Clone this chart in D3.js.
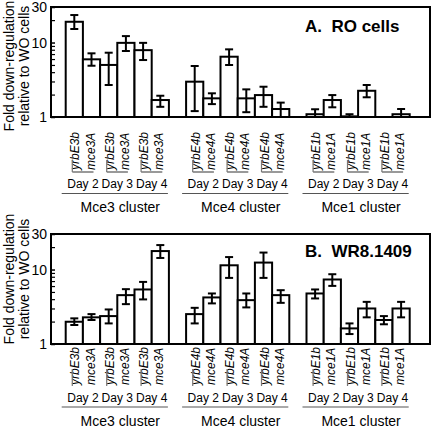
<!DOCTYPE html>
<html>
<head>
<meta charset="utf-8">
<script src="https://cdn.jsdelivr.net/npm/d3@7"></script>
<style>
  html, body { margin: 0; padding: 0; background: #fff; }
  svg { display: block; }
  text { font-family: "Liberation Sans", Arial, Helvetica, sans-serif; fill: #000; }
</style>
</head>
<body>
<svg id="chart" width="432" height="429"></svg>
<script>
// ---------- data ----------
const clusters = ["Mce3 cluster", "Mce4 cluster", "Mce1 cluster"];
const days = ["Day 2", "Day 3", "Day 4"];
const genePairs = [["yrbE3b", "mce3A"], ["yrbE4b", "mce4A"], ["yrbE1b", "mce1A"]];

// Panel A: RO cells (18 bars: cluster x day x gene)
const roValues = [19.0, 5.95, 5.0, 9.9, 7.9, 1.69,  2.98, 1.78, 6.45, 1.78, 1.97, 1.28,  1.09, 1.69, 1.02, 2.25, 1.0, 1.09];
const roLow    = [15.2, 4.88, 2.69, 7.69, 5.82, 1.37, 1.2, 1.49, 4.99, 1.16, 1.37, 1.0,   1.0, 1.35, 1.0, 1.84, 1.0, 1.0];
const roHigh   = [23.4, 7.16, 7.3, 12.2, 9.9, 1.93,   4.84, 2.08, 8.1, 2.35, 2.55, 1.56,  1.27, 1.97, 1.09, 2.69, 1.0, 1.28];

// Panel B: WR8.1409
const wrValues = [1.99, 2.28, 2.37, 4.53, 5.4, 17.7,  2.52, 4.22, 11.4, 3.88, 12.4, 4.53,  4.77, 7.35, 1.62, 3.0, 2.10, 3.0];
const wrLow    = [1.80, 2.10, 1.89, 3.43, 3.97, 14.3, 1.89, 3.51, 7.72, 3.10, 7.72, 3.57,  4.09, 6.03, 1.36, 2.28, 1.84, 2.28];
const wrHigh   = [2.21, 2.52, 2.91, 5.45, 6.82, 21.3, 3.06, 4.77, 14.7, 4.77, 16.9, 5.28,  5.4, 8.65, 1.89, 3.68, 2.37, 3.68];

const yTickLabels = [1, 10, 30];
const yMinorTicks = [2, 3, 4, 5, 6, 7, 8, 9, 20];
const yTitleLines = ["Fold down-regulation", "relative to WO cells"];
const panelTitles = ["A.  RO cells", "B.  WR8.1409"];

// ---------- layout ----------
const svg = d3.select("#chart");
const plotLeft = 51, plotRight = 430;
// slot scale: 6 bars per cluster + 1 gap slot
const x = d3.scaleLinear().domain([0, 20]).range([65.7, 409.7]);

const panels = [
  { title: panelTitles[0], values: roValues, low: roLow, high: roHigh,
    top: 7, bottom: 117, titleY: 32, yTitleC: 66,
    labelBottom: 170, dayY: 188, groupLineY: 193.5, clusterY: 212,
    pairLine: true, vTop: 160, vBot: 172 },
  { title: panelTitles[1], values: wrValues, low: wrLow, high: wrHigh,
    top: 234, bottom: 344, titleY: 257, yTitleC: 279,
    labelBottom: 385, dayY: 402, groupLineY: 407, clusterY: 426,
    pairLine: false, vTop: 369, vBot: 386 }
];

panels.forEach(p => {
  const g = svg.append("g");
  const y = d3.scaleLog().domain([1, 30]).range([p.bottom, p.top]);

  // bars data
  const bars = [];
  clusters.forEach((c, ci) => {
    days.forEach((d, di) => {
      genePairs[ci].forEach((gene, gi) => {
        const k = ci * 6 + di * 2 + gi;
        bars.push({ slot: ci * 7 + di * 2 + gi, gene, gi,
          v: p.values[k], lo: p.low[k], hi: p.high[k] });
      });
    });
  });

  // y title
  yTitleLines.forEach((t, i) => {
    g.append("text")
      .attr("transform", `translate(${i === 0 ? 13.5 : 29},${p.yTitleC}) rotate(-90)`)
      .attr("text-anchor", "middle")
      .style("font-size", "14px")
      .text(t);
  });

  // bars
  g.selectAll("rect.bar").data(bars).enter().append("rect")
    .attr("class", "bar")
    .attr("x", d => x(d.slot))
    .attr("width", d => x(d.slot + 1) - x(d.slot))
    .attr("y", d => y(d.v))
    .attr("height", d => y(1) - y(d.v))
    .attr("fill", "#fff")
    .attr("stroke", "#000")
    .attr("stroke-width", 2);

  // error bars
  const eb = g.selectAll("g.err").data(bars).enter().append("g").attr("class", "err")
    .attr("stroke", "#000").attr("stroke-width", 2);
  const cx = d => (x(d.slot) + x(d.slot + 1)) / 2;
  eb.append("line").attr("x1", cx).attr("x2", cx).attr("y1", d => y(d.lo)).attr("y2", d => y(d.hi));
  eb.append("line").attr("x1", d => cx(d) - 4).attr("x2", d => cx(d) + 4).attr("y1", d => y(d.hi)).attr("y2", d => y(d.hi));
  eb.append("line").attr("x1", d => cx(d) - 4).attr("x2", d => cx(d) + 4).attr("y1", d => y(d.lo)).attr("y2", d => y(d.lo));

  // frame
  g.append("rect")
    .attr("x", plotLeft).attr("y", p.top)
    .attr("width", plotRight - plotLeft).attr("height", p.bottom - p.top)
    .attr("fill", "none").attr("stroke", "#000").attr("stroke-width", 2);

  // y axis (ticks inward)
  const axis = d3.axisLeft(y)
    .tickValues(yTickLabels)
    .tickFormat(d3.format("d"))
    .tickSizeInner(-4).tickSizeOuter(0).tickPadding(4);
  const ag = g.append("g").attr("transform", `translate(${plotLeft},0)`).call(axis);
  ag.select(".domain").remove();
  ag.selectAll("text").style("font-size", "14px").style("font-family", "'Liberation Sans', Arial, sans-serif").attr("fill", "#000");
  ag.selectAll("line").attr("stroke-width", 1.5);
  const minor = d3.axisLeft(y).tickValues(yMinorTicks).tickFormat("").tickSizeInner(-4).tickSizeOuter(0);
  const mg = g.append("g").attr("transform", `translate(${plotLeft},0)`).call(minor);
  mg.select(".domain").remove();
  mg.selectAll("line").attr("stroke-width", 1.2);

  // panel title
  g.append("text")
    .attr("x", 305).attr("y", p.titleY)
    .style("font-size", "17px").style("font-weight", "bold").style("white-space", "pre")
    .text(p.title);

  // category labels (rotated, italic)
  g.selectAll("text.cat").data(bars).enter().append("text")
    .attr("class", "cat")
    .attr("transform", d => `translate(${cx(d) + (d.gi === 0 ? 5 : 3)},${p.labelBottom}) rotate(-90)`)
    .style("font-size", "12px").style("font-style", "italic")
    .text(d => d.gene);

  // pair markers & day labels
  clusters.forEach((c, ci) => {
    days.forEach((d, di) => {
      const s = ci * 7 + di * 2;
      g.append("line")
        .attr("x1", x(s) + 6.6).attr("x2", x(s) + 6.6)
        .attr("y1", p.vTop).attr("y2", p.vBot)
        .attr("stroke", "#777").attr("stroke-width", 1.2);
      if (p.pairLine) {
        g.append("line")
          .attr("x1", x(s) + 6.6).attr("x2", x(s + 2) - 6.6)
          .attr("y1", p.vBot).attr("y2", p.vBot)
          .attr("stroke", "#777").attr("stroke-width", 1.5);
      }
      g.append("text")
        .attr("x", x(s + 1)).attr("y", p.dayY)
        .attr("text-anchor", "middle")
        .style("font-size", "12px")
        .text(d);
    });
    // cluster line and label
    g.append("line")
      .attr("x1", x(ci * 7) - 4).attr("x2", x(ci * 7 + 6) - 1)
      .attr("y1", p.groupLineY).attr("y2", p.groupLineY)
      .attr("stroke", "#555").attr("stroke-width", 1.2);
    g.append("text")
      .attr("x", x(ci * 7 + 3) + 3).attr("y", p.clusterY)
      .attr("text-anchor", "middle")
      .style("font-size", "14px")
      .text(c);
  });
});
</script>
</body>
</html>
